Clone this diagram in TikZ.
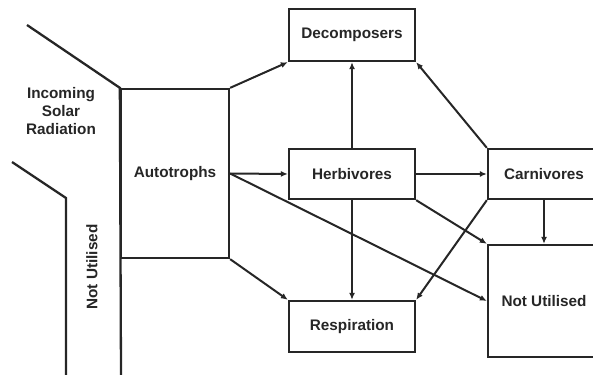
\documentclass[tikz,border=0pt]{standalone}
\usepackage{fontspec}
\setmainfont{Liberation Sans}
\usetikzlibrary{arrows.meta}
\definecolor{ink}{gray}{0.15}
\begin{document}
\begin{tikzpicture}[x=1pt,y=-1pt,
  box/.style={draw=ink,line width=2.3pt,rectangle,inner sep=0pt,text=ink,font=\fontsize{15.3}{18}\selectfont\bfseries},
  lbl/.style={text=ink,font=\fontsize{15.3}{18}\selectfont\bfseries,align=center,inner sep=0pt},
  conn/.style={draw=ink,line width=2pt,-{Latex[length=7pt,width=6pt]}},
  plain/.style={draw=ink,line width=2.3pt}]
\useasboundingbox (0,0) rectangle (593,374);
\clip (0,0) rectangle (593,374);
\node[box,minimum width=108,minimum height=169] (auto) at (175,173.5) {Autotrophs};
\node[box,minimum width=126,minimum height=52] (dec) at (352,35) {Decomposers};
\node[box,minimum width=126,minimum height=50] (herb) at (352,174) {Herbivores};
\node[box,minimum width=126,minimum height=51] (resp) at (352,326.5) {Respiration};
\node[box,minimum width=112,minimum height=50] (carn) at (544,174) {Carnivores};
\node[box,minimum width=112,minimum height=112] (nu) at (544,301) {Not Utilised};
\node[lbl] (solar) at (61,111) {Incoming\\Solar\\Radiation};
\node[lbl,rotate=90] (nul) at (92,267) {Not Utilised};
\coordinate (s1) at (27,25);
\coordinate (b1) at (121,375);
\coordinate (s2) at (12,162);
\coordinate (k2) at (66,198);
\coordinate (b2) at (66,375);
\draw[plain,line join=miter] (s1) -- (auto.north west) -- (b1);
\draw[plain,line join=miter] (s2) -- (k2) -- (b2);
\draw[conn] (auto.north east) -- (dec.south west);
\draw[conn] (auto.east) -- (herb.west);
\draw[conn] (auto.south east) -- (resp.north west);
\draw[conn] (auto.east) -- (nu.west);
\draw[conn] (herb.north) -- (dec.south);
\draw[conn] (herb.south) -- (resp.north);
\draw[conn] (herb.east) -- (carn.west);
\draw[conn] (herb.south east) -- (nu.north west);
\draw[conn] (carn.north west) -- (dec.south east);
\draw[conn] (carn.south west) -- (resp.north east);
\draw[conn] (carn.south) -- (nu.north);
\end{tikzpicture}
\end{document}
